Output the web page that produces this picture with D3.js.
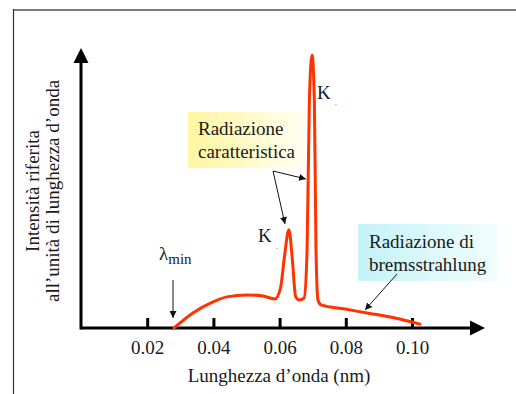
<!DOCTYPE html>
<html>
<head>
<meta charset="utf-8">
<script src="https://cdn.jsdelivr.net/npm/d3@7"></script>
<style>
  html, body { margin: 0; padding: 0; background: #fff; }
  svg { display: block; }
  text { font-family: "Liberation Serif", "DejaVu Serif", "Times New Roman", serif; fill: #1a1a1a; }
</style>
</head>
<body>
<svg id="chart" width="516" height="394"></svg>
<script>
// X-ray tube spectrum: continuous bremsstrahlung plus the two characteristic K lines
const wavelength = [0.0281, 0.0338, 0.0399, 0.0441, 0.0502, 0.0550, 0.0586, 0.0603, 0.0615, 0.0628,
                    0.0639, 0.0648, 0.0659, 0.0674, 0.0683, 0.0690, 0.0698, 0.0705, 0.0710, 0.0716,
                    0.0725, 0.0798, 0.0864, 0.0949, 0.1024];
const intensity  = [0, 5.4, 9.4, 11.2, 11.9, 11.5, 10.4, 14.5, 26, 35.3,
                    24, 11.5, 10.1, 10.8, 28, 82, 98.2, 82, 28, 10,
                    8.3, 6.8, 5.4, 3.6, 1.4];
const tickValues = [0.02, 0.04, 0.06, 0.08, 0.10];
const tickLabels = ["0.02", "0.04", "0.06", "0.08", "0.10"];
const xTitle = "Lunghezza d’onda (nm)";
const yTitleLines = ["Intensità riferita", "all’unità di lunghezza d’onda"];

const svg = d3.select("#chart");
const x = d3.scaleLinear().domain([0, 0.1]).range([81, 412]);
const y = d3.scaleLinear().domain([0, 100]).range([328, 50]);

// frame
svg.append("line").attr("x1", 13).attr("x2", 516).attr("y1", 10).attr("y2", 10)
  .attr("stroke", "#7a7a7a").attr("stroke-width", 2);
svg.append("line").attr("x1", 13.5).attr("x2", 13.5).attr("y1", 9).attr("y2", 394)
  .attr("stroke", "#333").attr("stroke-width", 1.2);

const defs = svg.append("defs");
const gY = defs.append("linearGradient").attr("id", "gYellow");
gY.append("stop").attr("offset", "0%").attr("stop-color", "#fff6a0");
gY.append("stop").attr("offset", "100%").attr("stop-color", "#fffff2");
const gC = defs.append("linearGradient").attr("id", "gCyan");
gC.append("stop").attr("offset", "0%").attr("stop-color", "#c4f3f8");
gC.append("stop").attr("offset", "100%").attr("stop-color", "#f2fdfd");
defs.append("marker").attr("id", "ah").attr("viewBox", "0 0 10 10")
  .attr("refX", 10).attr("refY", 5).attr("markerWidth", 7).attr("markerHeight", 7)
  .attr("markerUnits", "userSpaceOnUse").attr("orient", "auto")
  .append("path").attr("d", "M0,0 L10,5 L0,10 Z").attr("fill", "#111");

// highlighted label boxes
svg.append("rect").attr("x", 188).attr("y", 112).attr("width", 118).attr("height", 56).attr("fill", "url(#gYellow)");
svg.append("rect").attr("x", 358).attr("y", 224).attr("width", 139).attr("height", 57).attr("fill", "url(#gCyan)");

// x axis with upward ticks
const xAxis = d3.axisBottom(x).tickValues(tickValues)
  .tickFormat((d, i) => tickLabels[i]).tickSizeInner(-10).tickSizeOuter(0).tickPadding(14);
const gx = svg.append("g").attr("transform", "translate(0,328)").call(xAxis);
gx.attr("font-family", null);
gx.select(".domain").remove();
gx.selectAll(".tick line").attr("stroke", "#000").attr("stroke-width", 3);
gx.selectAll(".tick text").attr("font-size", 19).attr("fill", "#333").attr("dy", "0.62em");

// axis lines and arrowheads
svg.append("line").attr("x1", x(0)).attr("x2", 472).attr("y1", y(0)).attr("y2", y(0))
  .attr("stroke", "#000").attr("stroke-width", 3);
svg.append("path").attr("d", `M470,${y(0) - 7.5} L485,${y(0)} L470,${y(0) + 7.5} Z`).attr("fill", "#000");
svg.append("line").attr("x1", x(0)).attr("x2", x(0)).attr("y1", y(0) + 1.5).attr("y2", 60)
  .attr("stroke", "#000").attr("stroke-width", 3);
svg.append("path").attr("d", `M${x(0) - 7.5},63 L${x(0)},48 L${x(0) + 7.5},63 Z`).attr("fill", "#000");

// spectrum curve
const line = d3.line().x((d, i) => x(wavelength[i])).y(d => y(d)).curve(d3.curveMonotoneX);
svg.append("path").datum(intensity).attr("d", line)
  .attr("fill", "none").attr("stroke", "#ff3300").attr("stroke-width", 3)
  .attr("stroke-linejoin", "round").attr("stroke-linecap", "round");

// axis titles
svg.append("text").attr("x", 279).attr("y", 382).attr("text-anchor", "middle")
  .attr("font-size", 19).attr("fill", "#333").text(xTitle);
yTitleLines.forEach((t, i) => {
  svg.append("text").attr("transform", `translate(${39 + i * 20},191) rotate(-90)`)
    .attr("text-anchor", "middle").attr("font-size", 19).attr("fill", "#333").text(t);
});

// annotations
function label(xp, yp, t, size) {
  return svg.append("text").attr("x", xp).attr("y", yp).attr("font-size", size || 19).text(t);
}
label(198, 135, "Radiazione");
label(198, 158, "caratteristica");
label(369, 248, "Radiazione di");
label(369, 271, "bremsstrahlung");
label(258, 242, "K");
label(276, 249, ".", 7);
label(317, 99, "K");
label(335, 105, ".", 7);
const lam = svg.append("text").attr("x", 159).attr("y", 260).attr("font-size", 19);
lam.append("tspan").text("λ");
lam.append("tspan").attr("dy", 4).attr("font-size", 15).text("min");

function arrow(x1, y1, x2, y2) {
  svg.append("line").attr("x1", x1).attr("y1", y1).attr("x2", x2).attr("y2", y2)
    .attr("stroke", "#111").attr("stroke-width", 1).attr("marker-end", "url(#ah)");
}
arrow(273, 171, 306, 179);
arrow(273, 171, 285, 224);
arrow(397, 274, 365, 310);
arrow(173, 280, 173, 318);
</script>
</body>
</html>
